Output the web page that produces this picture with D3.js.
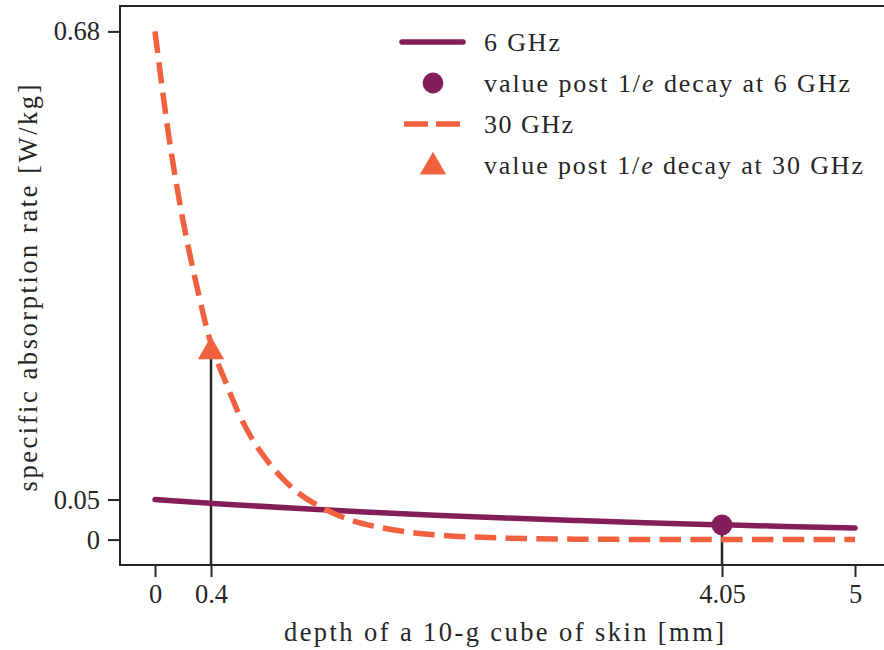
<!DOCTYPE html>
<html>
<head>
<meta charset="utf-8">
<script src="https://cdn.jsdelivr.net/npm/d3@7"></script>
<style>
  body { margin: 0; background: #fff; }
  svg text { font-family: "Liberation Serif", "DejaVu Serif", serif; fill: #262626; }
</style>
</head>
<body>
<div id="chart"></div>
<script>
// depth [mm] and SAR [W/kg]
const depth6 = [0, 0.5, 1.0, 1.5, 2.0, 2.5, 3.0, 3.5, 4.0, 4.5, 5.0];
const sar6 = [0.0536, 0.0474, 0.0419, 0.0370, 0.0327, 0.0289, 0.0256, 0.0226, 0.0200, 0.0176, 0.0156];

const depth30 = [0, 0.1, 0.2, 0.3, 0.4, 0.5, 0.6, 0.7, 0.8, 0.9, 1.0, 1.2, 1.4, 1.6, 1.8, 2.0, 2.5, 3.0, 3.5, 4.0, 4.5, 5.0];
const sar30 = [0.680, 0.538, 0.427, 0.338, 0.262, 0.213, 0.168, 0.133, 0.106, 0.084, 0.066, 0.042, 0.026,
  0.0165, 0.0103, 0.0065, 0.002, 0.0006, 0.0002, 0.0001, 0, 0];

// 1/e decay points
const decayPoints = [
  { key: '6', depth: 4.05, sar: 0.0197 },
  { key: '30', depth: 0.4, sar: 0.254 },
];

const xTickValues = [0, 0.4, 4.05, 5];
const xTickLabels = ['0', '0.4', '4.05', '5'];
const yTickValues = [0, 0.0536, 0.68];
const yTickLabels = ['0', '0.05', '0.68'];

const legendItems = [
  { key: '6', type: 'line', label: ['6 GHz'], len: 76 },
  { key: '6', type: 'circle', label: ['value post 1/', 'e', ' decay at 6 GHz'], len: 366 },
  { key: '30', type: 'dash', label: ['30 GHz'], len: 89 },
  { key: '30', type: 'triangle', label: ['value post 1/', 'e', ' decay at 30 GHz'], len: 379 },
];

const colors = { 6: '#841e5a', 30: '#f2613f' };
const ink = '#262626';

const width = 884;
const height = 650;
const margin = { top: 6, right: -6, bottom: 85, left: 120 };

const svg = d3.select('#chart')
  .append('svg')
    .attr('width', width)
    .attr('height', height);

const x = d3.scaleLinear()
  .domain([-0.25, 5.25])
  .range([margin.left, width - margin.right]);

const y = d3.scaleLinear()
  .domain([-0.034, 0.714])
  .range([height - margin.bottom, margin.top]);

// axes box
svg.append('rect')
  .attr('x', x.range()[0])
  .attr('y', y.range()[1])
  .attr('width', x.range()[1] - x.range()[0])
  .attr('height', y.range()[0] - y.range()[1])
  .attr('fill', 'none')
  .attr('stroke', ink)
  .attr('stroke-width', 2);

const xAxis = svg.append('g')
  .attr('transform', `translate(0, ${y.range()[0]})`)
  .call(d3.axisBottom(x)
    .tickValues(xTickValues)
    .tickFormat((d, i) => xTickLabels[i])
    .tickSize(12)
    .tickPadding(6));

const yAxis = svg.append('g')
  .attr('transform', `translate(${x.range()[0]}, 0)`)
  .call(d3.axisLeft(y)
    .tickValues(yTickValues)
    .tickFormat((d, i) => yTickLabels[i])
    .tickSize(12)
    .tickPadding(8));

[xAxis, yAxis].forEach((axis) => {
  axis.select('.domain').remove();
  axis.selectAll('.tick line').attr('stroke', ink).attr('stroke-width', 2);
  axis.selectAll('.tick text')
    .attr('fill', ink)
    .style('font-size', '26.5px')
    .style('font-family', '"Liberation Serif", serif');
});
xAxis.selectAll('.tick text').attr('dy', '0.75em');

// drop lines from the axis up to each decay point
svg.append('g')
  .selectAll('line')
  .data(decayPoints)
  .enter()
  .append('line')
    .attr('x1', d => x(d.depth))
    .attr('x2', d => x(d.depth))
    .attr('y1', y.range()[0])
    .attr('y2', d => y(d.sar))
    .attr('stroke', ink)
    .attr('stroke-width', 2.5);

const line = d3.line()
  .x(d => x(d[0]))
  .y(d => y(d[1]))
  .curve(d3.curveMonotoneX);

svg.append('path')
  .datum(depth6.map((d, i) => [d, sar6[i]]))
  .attr('d', line)
  .attr('fill', 'none')
  .attr('stroke', colors[6])
  .attr('stroke-width', 5.5)
  .attr('stroke-linecap', 'round');

svg.append('path')
  .datum(depth30.map((d, i) => [d, sar30[i]]))
  .attr('d', line)
  .attr('fill', 'none')
  .attr('stroke', colors[30])
  .attr('stroke-width', 5.5)
  .attr('stroke-dasharray', '21.5 9.3');

const circleSym = d3.symbol().type(d3.symbolCircle).size(340);
const triSym = d3.symbol().type(d3.symbolTriangle).size(300);

svg.append('g')
  .selectAll('path')
  .data(decayPoints)
  .enter()
  .append('path')
    .attr('transform', d => `translate(${x(d.depth)}, ${y(d.sar) + (d.key === '30' ? 2 : 0)})`)
    .attr('d', d => (d.key === '6' ? circleSym() : triSym()))
    .attr('fill', d => colors[d.key]);

// legend
const legend = svg.append('g')
  .attr('transform', 'translate(402, 42)');

const rows = legend.selectAll('g')
  .data(legendItems)
  .enter()
  .append('g')
    .attr('transform', (d, i) => `translate(0, ${i * 41})`);

rows.each(function (d) {
  const row = d3.select(this);
  if (d.type === 'line') {
    row.append('line')
      .attr('x1', 0).attr('x2', 61)
      .attr('stroke', colors[d.key]).attr('stroke-width', 5.5)
      .attr('stroke-linecap', 'round');
  } else if (d.type === 'dash') {
    row.append('line')
      .attr('x1', 2).attr('x2', 60)
      .attr('stroke', colors[d.key]).attr('stroke-width', 5.5)
      .attr('stroke-dasharray', '24 8');
  } else if (d.type === 'circle') {
    row.append('path')
      .attr('transform', 'translate(31, 0)')
      .attr('d', circleSym())
      .attr('fill', colors[d.key]);
  } else {
    row.append('path')
      .attr('transform', 'translate(31, 2)')
      .attr('d', triSym())
      .attr('fill', colors[d.key]);
  }
  const text = row.append('text')
    .attr('x', 82)
    .attr('y', 9)
    .attr('textLength', d.len)
    .attr('lengthAdjust', 'spacing')
    .style('font-size', '26px');
  d.label.forEach((part, j) => {
    text.append('tspan')
      .style('font-style', j === 1 ? 'italic' : 'normal')
      .text(part);
  });
});

// axis titles
svg.append('text')
  .attr('x', 504)
  .attr('y', 641)
  .attr('text-anchor', 'middle')
  .attr('textLength', 440)
  .attr('lengthAdjust', 'spacing')
  .style('font-size', '26.5px')
  .text('depth of a 10-g cube of skin [mm]');

svg.append('text')
  .attr('transform', 'translate(37, 288) rotate(-90)')
  .attr('text-anchor', 'middle')
  .attr('textLength', 407)
  .attr('lengthAdjust', 'spacing')
  .style('font-size', '26.5px')
  .text('specific absorption rate [W/kg]');
</script>
</body>
</html>
